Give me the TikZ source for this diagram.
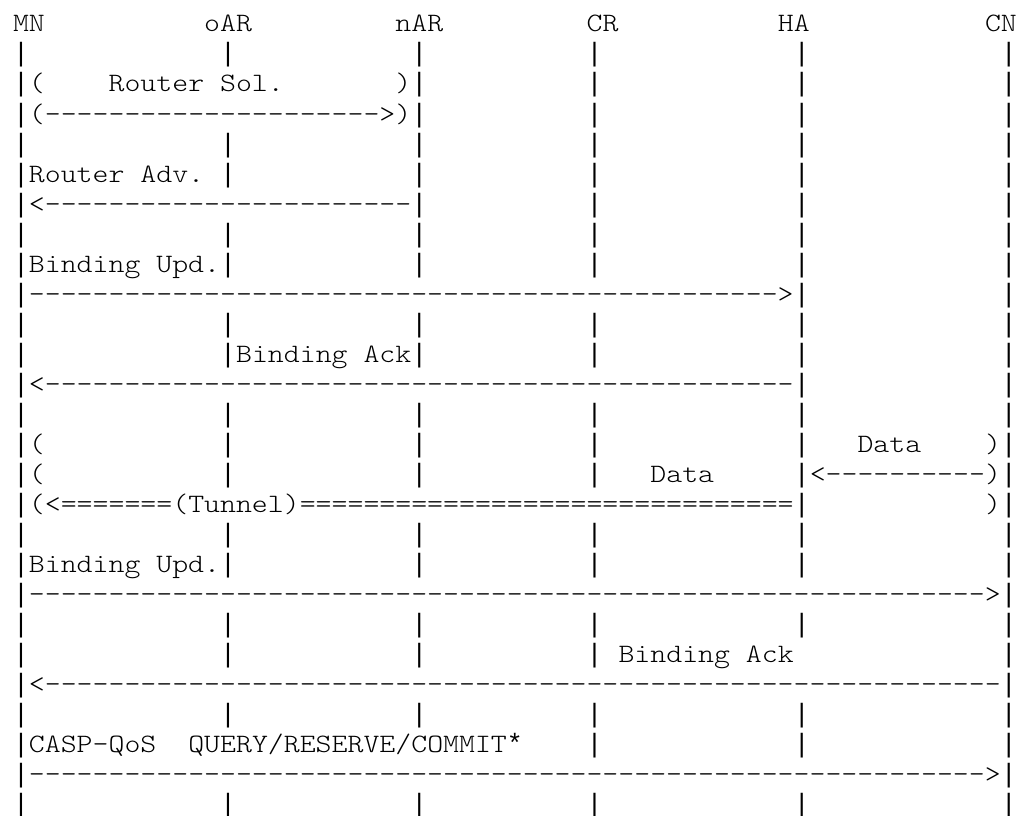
\documentclass[tikz,border=0pt]{standalone}
\usepackage{fontspec}
\setmonofont{lmmonolt10-regular.otf}[FakeStretch=1.143]
\newfontfamily\barfont{Liberation Mono}
\newcommand{\cx}[1]{13+15.935*(#1)}
\newcommand{\ry}[1]{30*(#1)+2}
\newcommand{\chrun}[2]{\foreach \k in {1,...,#1}{#2}}
\begin{document}
\begin{tikzpicture}[x=1pt, y=-1pt,
  asc/.style={anchor=base west, inner sep=0pt, outer sep=0pt, font=\ttfamily\fontsize{26.55pt}{30pt}\selectfont},
  bar/.style={asc, font=\barfont\fontsize{26.55pt}{30pt}\selectfont}]
\useasboundingbox (0,0) rectangle (1020,816);
% entities
\foreach \name/\c in {MN/0,oAR/12,nAR/24,CR/36,HA/48,CN/61}
  \node[asc] (\name) at ({\cx{\c}},{\ry{1}}) {\name};
% lifelines, one bar per row where nothing crosses them
\foreach \r in {2,...,27} \node[bar] (mn\r) at ({\cx{0}},{\ry{\r}}) {|};
\foreach \r in {2,5,6,8,9,11,12,14,15,16,18,19,21,22,24,27} \node[bar] (oar\r) at ({\cx{13}},{\ry{\r}}) {|};
\foreach \r in {2,...,9,11,12,14,15,16,18,19,21,22,24,27} \node[bar] (nar\r) at ({\cx{25}},{\ry{\r}}) {|};
\foreach \r in {2,...,9,11,12,14,15,16,18,19,21,22,24,25,27} \node[bar] (cr\r) at ({\cx{36}},{\ry{\r}}) {|};
\foreach \r in {2,...,19,21,24,25,27} \node[bar] (ha\r) at ({\cx{49}},{\ry{\r}}) {|};
\foreach \r in {2,...,27} \node[bar] (cn\r) at ({\cx{62}},{\ry{\r}}) {|};
% router solicitation / advertisement
\node[asc] (solL) at ({\cx{1}},{\ry{3}}) {(};
\node[asc] (sol) at ({\cx{6}},{\ry{3}}) {Router Sol.};
\node[asc] (solR) at ({\cx{24}},{\ry{3}}) {)};
\node[asc] (solArr) at ({\cx{1}},{\ry{4}}) {(\chrun{21}{-}>)};
\node[asc] (adv) at ({\cx{1}},{\ry{6}}) {Router Adv.};
\node[asc] (advArr) at ({\cx{1}},{\ry{7}}) {<\chrun{23}{-}};
% binding with HA
\node[asc] (bu1) at ({\cx{1}},{\ry{9}}) {Binding Upd.};
\node[asc] (bu1Arr) at ({\cx{1}},{\ry{10}}) {\chrun{47}{-}>};
\node[asc] (ba1) at ({\cx{14}},{\ry{12}}) {Binding Ack};
\node[asc] (ba1Arr) at ({\cx{1}},{\ry{13}}) {<\chrun{47}{-}};
% data and tunnel
\node[asc] (dL1) at ({\cx{1}},{\ry{15}}) {(};
\node[asc] (dat1) at ({\cx{53}},{\ry{15}}) {Data};
\node[asc] (dR1) at ({\cx{61}},{\ry{15}}) {)};
\node[asc] (dL2) at ({\cx{1}},{\ry{16}}) {(};
\node[asc] (dat2) at ({\cx{40}},{\ry{16}}) {Data};
\node[asc] (datArr) at ({\cx{50}},{\ry{16}}) {<\chrun{10}{-})};
\node[asc] (tun) at ({\cx{1}},{\ry{17}}) {(<\chrun{7}{=}(Tunnel)\chrun{31}{=}};
\node[asc] (dR3) at ({\cx{61}},{\ry{17}}) {)};
% binding with CN
\node[asc] (bu2) at ({\cx{1}},{\ry{19}}) {Binding Upd.};
\node[asc] (bu2Arr) at ({\cx{1}},{\ry{20}}) {\chrun{60}{-}>};
\node[asc] (ba2) at ({\cx{38}},{\ry{22}}) {Binding Ack};
\node[asc] (ba2Arr) at ({\cx{1}},{\ry{23}}) {<\chrun{60}{-}};
% CASP
\node[asc] (casp) at ({\cx{1}},{\ry{25}}) {CASP-QoS};
\node[asc] (qrc) at ({\cx{11}},{\ry{25}}) {QUERY/RESERVE/COMMIT{\barfont*}};
\node[asc] (caspArr) at ({\cx{1}},{\ry{26}}) {\chrun{60}{-}>};
\end{tikzpicture}
\end{document}
